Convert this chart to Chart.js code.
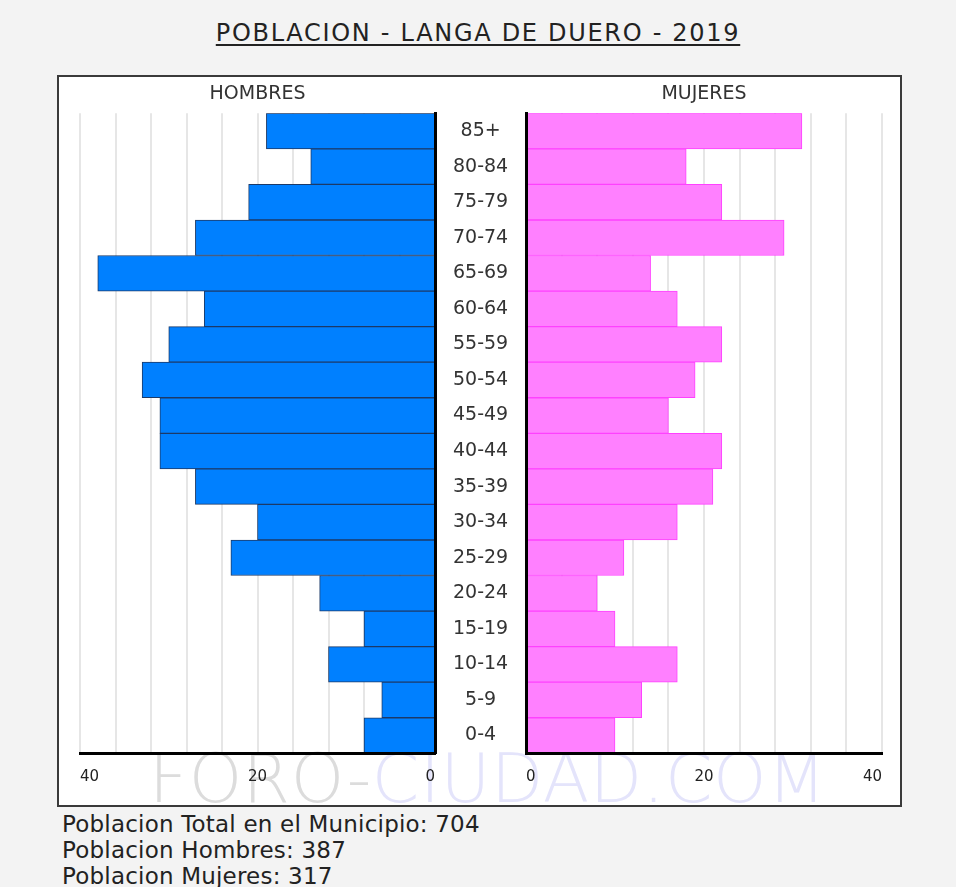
<!DOCTYPE html>
<html>
<head>
<meta charset="utf-8">
<script src="https://cdn.jsdelivr.net/npm/chart.js@4.4.1/dist/chart.umd.min.js"></script>
<style>
  html, body { margin: 0; padding: 0; }
  body { width: 956px; height: 887px; background: #f3f3f3; position: relative; overflow: hidden; font-family: "DejaVu Sans", Verdana, sans-serif; }
  #title { position: absolute; left: 0; width: 956px; top: 19px; line-height: 28px; text-align: center; font-size: 24px; color: #222; letter-spacing: 1.7px; text-decoration: underline; text-decoration-thickness: 2px; text-underline-offset: 3px; }
  #box { position: absolute; left: 57px; top: 75px; width: 845px; height: 732px; box-sizing: border-box; background: #fff; border: 2px solid #3a3a3a; }
  #mark { position: absolute; left: 149px; top: 745px; font-size: 68px; line-height: 68px; font-weight: 200; letter-spacing: 0.6px; white-space: nowrap; }
  #mark .a { color: #dcdcdc; }
  #mark .b { color: #e4e4fb; }
  canvas { position: absolute; }
  #left { left: 58px; top: 76px; }
  #right { left: 511px; top: 76px; }
  #info { position: absolute; left: 62px; top: 811px; font-size: 23px; line-height: 26px; letter-spacing: 0.2px; color: #222; }
</style>
</head>
<body>
<div id="title">POBLACION - LANGA DE DUERO - 2019</div>
<div id="box"></div>
<div id="mark"><span class="a">FORO-</span><span class="b">CIUDAD.COM</span></div>
<canvas id="left" width="468" height="730"></canvas>
<canvas id="right" width="391" height="730"></canvas>
<div id="info">
  Poblacion Total en el Municipio: 704<br>
  Poblacion Hombres: 387<br>
  Poblacion Mujeres: 317
</div>
<script>
const ageGroups = ["85+", "80-84", "75-79", "70-74", "65-69", "60-64", "55-59", "50-54", "45-49",
  "40-44", "35-39", "30-34", "25-29", "20-24", "15-19", "10-14", "5-9", "0-4"];
const hombres = [19, 14, 21, 27, 38, 26, 30, 33, 31, 31, 27, 20, 23, 13, 8, 12, 6, 8];
const mujeres = [31, 18, 22, 29, 14, 17, 22, 19, 16, 22, 21, 17, 11, 8, 10, 17, 13, 10];
const axisMax = 40;
const axisStep = 4;

Chart.defaults.font.family = '"DejaVu Sans", Verdana, sans-serif';
Chart.defaults.color = "#333";

// men are drawn to the left as negative values, labels show the absolute number
function xScale(min, max) {
  return {
    type: "linear",
    min: min,
    max: max,
    afterFit: s => { s.height = 52.7; },
    grid: { color: "#e6e6e6", lineWidth: 2, drawTicks: false },
    border: { display: true, color: "#000", width: 3, z: 1 },
    ticks: {
      stepSize: axisStep,
      autoSkip: false,
      maxRotation: 0,
      align: "inner",
      padding: 15,
      font: { size: 15 },
      color: "#222",
      callback: v => (v % 20 === 0 ? Math.abs(v) : "")
    }
  };
}

function titleOpts(text) {
  return {
    display: true,
    text: text,
    fullSize: false,
    color: "#333",
    font: { size: 19, weight: "normal" },
    padding: { top: 6.6, bottom: 7.9 }
  };
}

const commonOpts = {
  responsive: false,
  animation: false,
  devicePixelRatio: 1,
  indexAxis: "y",
  events: []
};

new Chart(document.getElementById("left"), {
  type: "bar",
  data: {
    labels: ageGroups,
    datasets: [{
      data: hombres.map(v => -v),
      backgroundColor: "#0080ff",
      borderColor: "#1c3a68",
      borderWidth: 1,
      barPercentage: 1,
      categoryPercentage: 1
    }]
  },
  options: {
    ...commonOpts,
    layout: { padding: { left: 22, right: 0, top: 0, bottom: 0 } },
    plugins: { legend: { display: false }, tooltip: { enabled: false }, title: titleOpts("HOMBRES") },
    scales: {
      x: xScale(-axisMax, 0),
      y: {
        position: "right",
        afterFit: s => { s.width = 91; },
        grid: { display: false },
        border: { display: true, color: "#000", width: 3, z: 1 },
        ticks: { crossAlign: "center", padding: 10, font: { size: 19 }, color: "#333" }
      }
    }
  }
});

new Chart(document.getElementById("right"), {
  type: "bar",
  data: {
    labels: ageGroups,
    datasets: [{
      data: mujeres,
      backgroundColor: "#ff80ff",
      borderColor: "#ff40ff",
      borderWidth: 1,
      barPercentage: 1,
      categoryPercentage: 1
    }]
  },
  options: {
    ...commonOpts,
    layout: { padding: { left: 0, right: 20, top: 0, bottom: 0 } },
    plugins: { legend: { display: false }, tooltip: { enabled: false }, title: titleOpts("MUJERES") },
    scales: {
      x: xScale(0, axisMax),
      y: {
        position: "left",
        afterFit: s => { s.width = 0; },
        grid: { display: false },
        border: { display: true, color: "#000", width: 3, z: 1 },
        ticks: { display: false }
      }
    }
  }
});
</script>
</body>
</html>
